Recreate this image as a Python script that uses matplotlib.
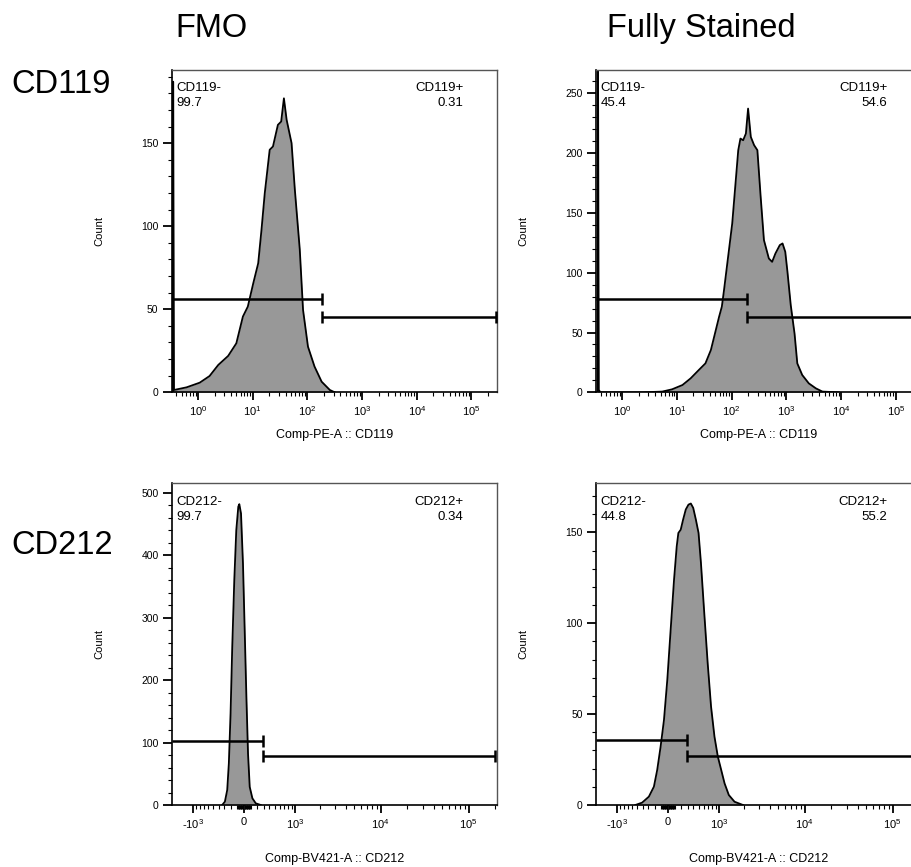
import numpy as np
import matplotlib.pyplot as plt
from matplotlib.ticker import MultipleLocator, FixedLocator, NullFormatter

plt.rcParams['font.family'] = ['Liberation Sans', 'DejaVu Sans']
plt.rcParams['mathtext.fontset'] = 'custom'
plt.rcParams['mathtext.rm'] = 'Liberation Sans'
plt.rcParams['mathtext.default'] = 'regular'

# --- CD119 (Comp-PE-A), x as log10 of intensity ---
fmo119_dec = np.array([-0.46, -0.455, -0.44, -0.21, 0.03, 0.21, 0.37, 0.55, 0.70, 0.82, 0.91,
                       1.01, 1.10, 1.16, 1.22, 1.31, 1.37, 1.46, 1.52, 1.57, 1.62, 1.71, 1.77,
                       1.86, 1.92, 2.01, 2.13, 2.26, 2.41, 2.50])
fmo119_cnt = np.array([0, 187, 1.4, 3.0, 5.8, 9.8, 16.5, 21.9, 29.5, 45.6, 51.6,
                       65.7, 77.7, 97.8, 119.9, 146, 148, 161, 163, 177, 164, 150, 122,
                       86, 49.6, 27.5, 15.5, 6.4, 1.4, 0])

full119_dec = np.array([-0.45, -0.445, -0.43, -0.40, 0.37, 0.73, 0.91, 1.10, 1.25, 1.40, 1.52,
                        1.62, 1.68, 1.77, 1.82, 1.86, 1.92, 2.01, 2.07, 2.12, 2.16, 2.21, 2.26,
                        2.30, 2.35, 2.41, 2.47, 2.53, 2.59, 2.68, 2.74, 2.80, 2.88, 2.93, 2.98,
                        3.02, 3.08, 3.15, 3.20, 3.29, 3.41, 3.54, 3.66, 3.96])
full119_cnt = np.array([0, 300, 2, 0, 0, 0.6, 2.5, 6.1, 11.7, 18.7, 24.2,
                        35.4, 46.5, 63.2, 71.6, 85.5, 107.8, 141.2, 174.6, 202.4, 212.2, 210.8, 216.4,
                        237.3, 213.6, 206.7, 202.5, 163.5, 127.3, 111.9, 109.1, 116.1, 123.1, 124.5, 117.5,
                        100.8, 73.0, 49.0, 24.2, 14.5, 7.5, 3.3, 0.6, 0])

# --- CD212 (Comp-BV421-A), x as raw intensity on a biexponential axis ---
fmo212_val = np.array([-338, -292, -254, -228, -201, -175, -144, -114, -84, -69, -44,
                       -15, 10, 35, 59, 84, 124, 175, 254])
fmo212_cnt = np.array([0, 5.3, 24, 66.7, 146.7, 253.5, 360, 440, 477.6, 481.7, 466.7,
                       386, 280, 173, 82, 29, 10.7, 2.7, 0])

full212_val = np.array([-538, -409, -292, -211, -160, -109, -59, -10, 39, 89, 129, 154, 190,
                        227, 270, 315, 355, 397, 446, 497, 545, 615, 692, 773, 862, 956,
                        1057, 1167, 1318, 1548, 1953])
full212_cnt = np.array([0, 1.3, 4.6, 10.1, 19.3, 32.1, 46.8, 68.9, 96.4, 124, 142.3, 149.7, 151.5,
                        157, 162.6, 165.3, 165.9, 163.5, 157, 149.7, 133.2, 105.6, 78, 54.2, 37.6, 26.6,
                        19.3, 11.9, 5.5, 1.8, 0])

# gates per panel: FMO CD119, Full CD119, FMO CD212, Full CD212
gate_split = [187, 187, 282, 298]
gate_neg_y = [56, 78, 103, 35.5]
gate_pos_y = [45.5, 63, 79, 27]
marker = ['CD119', 'CD119', 'CD212', 'CD212']
pct_neg = ['99.7', '45.4', '99.7', '44.8']
pct_pos = ['0.31', '54.6', '0.34', '55.2']
y_max = [194, 269.5, 515, 177]
y_major = [50, 50, 100, 50]
y_minor = [10, 10, 20, 10]

LOG_LIM = (0.33, 2.9e5)
BIEX_LIM = (-1800, 2.1e5)
W = 560.0

FILL = '#989898'


def biex_fwd(x):
    return np.arcsinh(np.asarray(x, dtype=float) / W)


def biex_inv(y):
    return W * np.sinh(y)


fig = plt.figure(figsize=(9.11, 8.67), dpi=100)
boxes = [[0.1885, 0.5475, 0.3568, 0.3717], [0.6542, 0.5475, 0.3568, 0.3717],
         [0.1888, 0.0715, 0.3568, 0.3710], [0.6542, 0.0715, 0.3568, 0.3710]]
xs = [10 ** fmo119_dec, 10 ** full119_dec, fmo212_val, full212_val]
ys = [fmo119_cnt, full119_cnt, fmo212_cnt, full212_cnt]

for i, box in enumerate(boxes):
    ax = fig.add_axes(box)
    x, y = xs[i], ys[i]
    ax.fill_between(x, y, 0, color=FILL, lw=0, zorder=1)
    ax.plot(x, y, color='black', lw=1.3, zorder=2)

    if i < 2:
        ax.set_xscale('log')
        xlim = LOG_LIM
        ax.xaxis.set_minor_formatter(NullFormatter())
        xlabel = 'Comp-PE-A :: CD119'
        pad = 8
    else:
        ax.set_xscale('function', functions=(biex_fwd, biex_inv))
        xlim = BIEX_LIM
        ax.xaxis.set_major_locator(FixedLocator([-1e3, 0, 1e3, 1e4, 1e5]))
        ax.set_xticklabels(['-10$^3$', '0', '10$^3$', '10$^4$', '10$^5$'])
        minors = np.concatenate([-np.arange(100, 1000, 100), -np.arange(10, 100, 10),
                                 np.arange(10, 100, 10), np.arange(100, 1000, 100),
                                 np.arange(2e3, 1e4, 1e3), np.arange(2e4, 1e5, 1e4), [2e5]])
        ax.xaxis.set_minor_locator(FixedLocator(minors))
        xlabel = 'Comp-BV421-A :: CD212'
        pad = 16
    ax.set_xlim(*xlim)
    ax.set_ylim(0, y_max[i])
    ax.yaxis.set_major_locator(MultipleLocator(y_major[i]))
    ax.yaxis.set_minor_locator(MultipleLocator(y_minor[i]))

    # gates
    split = gate_split[i]
    ax.plot([xlim[0], split], [gate_neg_y[i]] * 2, color='black', lw=1.8, zorder=3,
            solid_capstyle='butt')
    ax.plot([split], [gate_neg_y[i]], marker='|', ms=9, mew=1.8, color='black', zorder=3)
    right_end = xlim[1] * 0.96
    ax.plot([split, right_end], [gate_pos_y[i]] * 2, color='black', lw=1.8, zorder=3,
            solid_capstyle='butt')
    ax.plot([split, right_end], [gate_pos_y[i]] * 2, ls='none', marker='|', ms=9, mew=1.8,
            color='black', zorder=3)

    ax.text(0.015, 0.962, f'{marker[i]}-\n{pct_neg[i]}', transform=ax.transAxes,
            ha='left', va='top', fontsize=9.5, linespacing=1.35)
    ax.text(0.897, 0.962, f'{marker[i]}+\n{pct_pos[i]}', transform=ax.transAxes,
            ha='right', va='top', fontsize=9.5, linespacing=1.35, multialignment='right')

    ax.set_xlabel(xlabel, fontsize=9, labelpad=pad)
    ax.set_ylabel('Count', fontsize=8)
    ax.yaxis.set_label_coords(-0.208, 0.5)

    ax.tick_params(which='major', length=6.5, width=1.3, labelsize=7.5, pad=3)
    ax.tick_params(axis='x', which='major', length=5.5, labelsize=8)
    ax.tick_params(which='minor', length=3, width=0.8)
    for side in ['left', 'bottom']:
        ax.spines[side].set_linewidth(1.2)
    for side in ['top', 'right']:
        ax.spines[side].set_linewidth(1.0)
        ax.spines[side].set_color('#555555')

fig.text(0.2324, 0.9677, 'FMO', ha='center', va='center', fontsize=23.5)
fig.text(0.770, 0.9677, 'Fully Stained', ha='center', va='center', fontsize=23.5)
fig.text(0.0128, 0.902, 'CD119', ha='left', va='center', fontsize=23.5)
fig.text(0.0128, 0.371, 'CD212', ha='left', va='center', fontsize=23.5)

fig.savefig('out.png', dpi=100)
